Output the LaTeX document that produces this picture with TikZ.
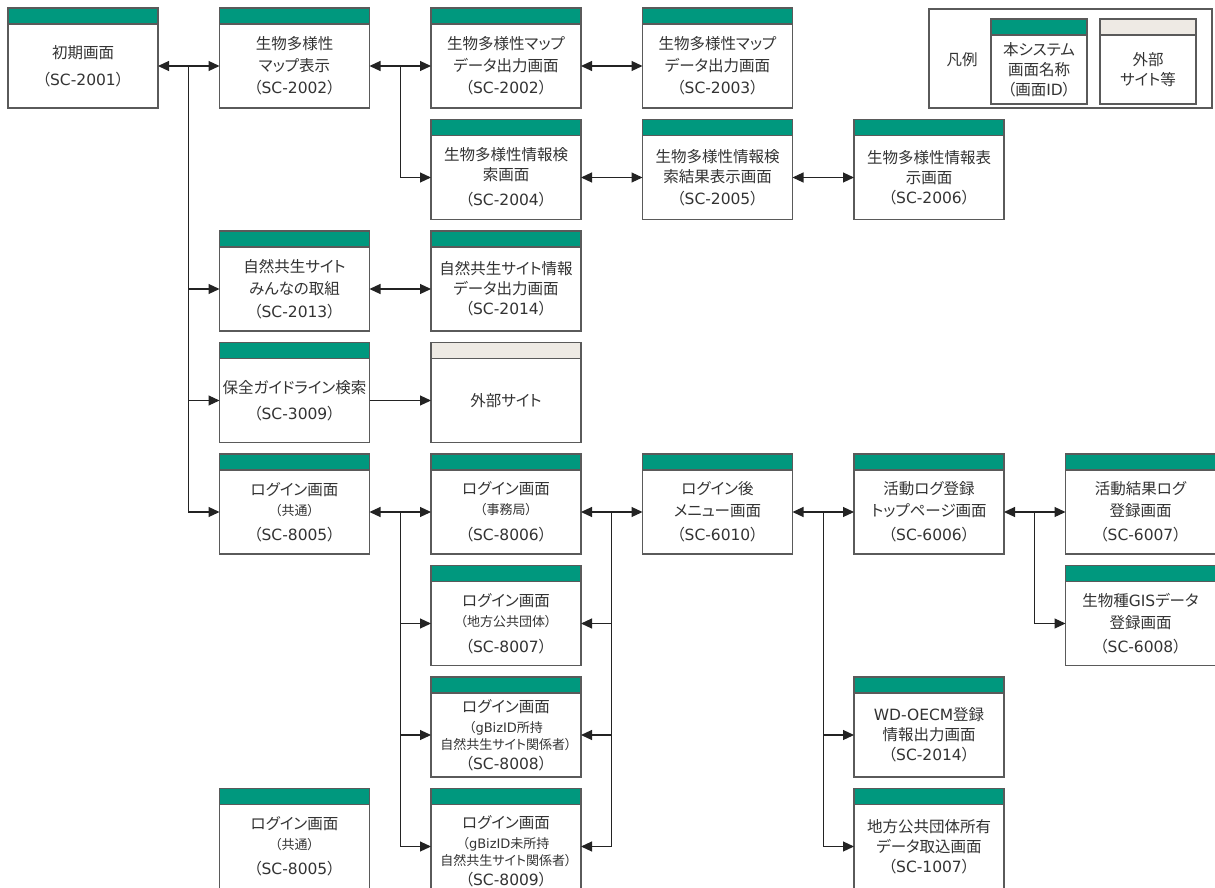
\documentclass[tikz,border=0pt]{standalone}
\usepackage{fontspec}
\setmainfont{Noto Sans CJK JP}[RawFeature=+palt]
\newfontfamily\latinfont{DejaVu Sans}
\usetikzlibrary{arrows.meta,calc}

\definecolor{hgreen}{RGB}{0,152,126}
\definecolor{hbeige}{RGB}{238,234,228}
\definecolor{framec}{RGB}{90,90,90}
\definecolor{ink}{RGB}{51,51,51}
\definecolor{wirec}{RGB}{35,35,35}

% Latin runs, screen IDs and the smaller sub-lines
\newcommand\lt[1]{{\latinfont #1}}
\newcommand\scid[1]{（\lt{SC-#1}）}
\newcommand\subf{\fontsize{13}{17}\selectfont}

% screen box: [text shift]{name}{left x}{top y}{header colour}{text}
\newcommand\scrn[6][0pt]{%
  \node[body] (#2) at ({#3+75},{#4+58}) {};
  \node[head, fill=#5] (#2h) at (#2.north) {};
  \node[txt] (#2t) at ([yshift=#1]#2.center) {#6};
}

\tikzset{
  body/.style={draw=framec, line width=1.2pt, fill=white, minimum width=150,
    minimum height=84, inner sep=0pt, outer sep=0pt},
  head/.style={draw=framec, line width=1.2pt, minimum width=150,
    minimum height=16, inner sep=0pt, outer sep=0pt, anchor=south},
  txt/.style={text=ink, align=center, inner sep=0pt,
    font=\fontsize{15.5}{20}\selectfont},
  wire/.style={draw=wirec, line width=1.1pt},
  dbl/.style={wire, {Triangle[length=11pt,width=10pt]}-{Triangle[length=11pt,width=10pt]}},
  sgl/.style={wire, -{Triangle[length=11pt,width=10pt]}},
}

\begin{document}
\begin{tikzpicture}[x=1pt,y=-1pt]
\useasboundingbox (0,0) rectangle (1215,888);
\clip (0,0) rectangle (1215,888);
\fill[white] (0,0) rectangle (1215,888);

% row 1
\scrn{b2001}{8}{8}{hgreen}{初期画面\\[7pt]\scid{2001}}
\scrn{b2002}{219.5}{8}{hgreen}{生物多様性\\[2pt]マップ表示\\[2pt]\scid{2002}}
\scrn{b2002o}{431}{8}{hgreen}{生物多様性マップ\\[2pt]データ出力画面\\[2pt]\scid{2002}}
\scrn{b2003}{642.5}{8}{hgreen}{生物多様性マップ\\[2pt]データ出力画面\\[2pt]\scid{2003}}
% row 2
\scrn{b2004}{431}{119.5}{hgreen}{生物多様性情報検\\索画面\\[5pt]\scid{2004}}
\scrn{b2005}{642.5}{119.5}{hgreen}{生物多様性情報検\\索結果表示画面\\[2pt]\scid{2005}}
\scrn{b2006}{854}{119.5}{hgreen}{生物多様性情報表\\示画面\\\scid{2006}}
% row 3
\scrn{b2013}{219.5}{231}{hgreen}{自然共生サイト\\[2pt]みんなの取組\\[3pt]\scid{2013}}
\scrn{b2014}{431}{231}{hgreen}{自然共生サイト情報\\データ出力画面\\\scid{2014}}
% row 4
\scrn{b3009}{219.5}{342.5}{hgreen}{保全ガイドライン検索\\[6pt]\scid{3009}}
\scrn{bext}{431}{342.5}{hbeige}{外部サイト}
% row 5
\scrn{b8005}{219.5}{454}{hgreen}{ログイン画面\\{\subf （共通）}\\[5pt]\scid{8005}}
\scrn{b8006}{431}{454}{hgreen}{ログイン画面\\{\subf （事務局）}\\[6pt]\scid{8006}}
\scrn{b6010}{642.5}{454}{hgreen}{ログイン後\\[2pt]メニュー画面\\[4pt]\scid{6010}}
\scrn{b6006}{854}{454}{hgreen}{活動ログ登録\\[2pt]トップページ画面\\[4pt]\scid{6006}}
\scrn{b6007}{1065.5}{454}{hgreen}{活動結果ログ\\[2pt]登録画面\\[4pt]\scid{6007}}
% row 6
\scrn{b8007}{431}{565.5}{hgreen}{ログイン画面\\{\subf （地方公共団体）}\\[6pt]\scid{8007}}
\scrn{b6008}{1065.5}{565.5}{hgreen}{生物種\lt{GIS}データ\\[2pt]登録画面\\[4pt]\scid{6008}}
% row 7
\scrn{b8008}{431}{677}{hgreen}{ログイン画面\\{\subf （\lt{gBizID}所持}\\[-3pt]{\subf 自然共生サイト関係者）}\\\scid{8008}}
\scrn{bwd}{854}{677}{hgreen}{\lt{WD-OECM}登録\\情報出力画面\\\scid{2014}}
% row 8
\scrn{b8005b}{219.5}{788.5}{hgreen}{ログイン画面\\{\subf （共通）}\\[5pt]\scid{8005}}
\scrn[-5pt]{b8009}{431}{788.5}{hgreen}{ログイン画面\\{\subf （\lt{gBizID}未所持}\\[-3pt]{\subf 自然共生サイト関係者）}\\\scid{8009}}
\scrn{b1007}{854}{788.5}{hgreen}{地方公共団体所有\\データ取込画面\\\scid{1007}}

% legend
\node[draw=framec, line width=1.2pt, minimum width=283, minimum height=99,
  inner sep=0pt] (legend) at (1070.5,58.5) {};
\node[txt] (legt) at (962,60) {凡例};
\node[body, minimum width=96, minimum height=69] (lg1) at (1039,69.5) {};
\node[head, minimum width=96, fill=hgreen] (lg1h) at (lg1.north) {};
\node[txt] (lg1t) at (lg1.center) {本システム\\画面名称\\（画面\lt{ID}）};
\node[body, minimum width=96, minimum height=69] (lg2) at (1148,69.5) {};
\node[head, minimum width=96, fill=hbeige] (lg2h) at (lg2.north) {};
\node[txt] (lg2t) at (lg2.center) {外部\\サイト等};

% junction points between neighbouring columns
\coordinate (j1) at ($(b2001.east)!0.5!(b2002.west)$);
\coordinate (j2) at ($(b2002.east)!0.5!(b2002o.west)$);
\coordinate (j3) at ($(b8005.east)!0.5!(b8006.west)$);
\coordinate (j4) at ($(b8006.east)!0.5!(b6010.west)$);
\coordinate (j5) at ($(b6010.east)!0.5!(b6006.west)$);
\coordinate (j6) at ($(b6006.east)!0.5!(b6007.west)$);

% transitions
\draw[dbl] (b2001.east) -- (b2002.west);
\draw[sgl] (j1) |- (b2013.west);
\draw[sgl] (j1) |- (b3009.west);
\draw[sgl] (j1) |- (b8005.west);

\draw[dbl] (b2002.east) -- (b2002o.west);
\draw[sgl] (j2) |- (b2004.west);
\draw[dbl] (b2002o.east) -- (b2003.west);
\draw[dbl] (b2004.east) -- (b2005.west);
\draw[dbl] (b2005.east) -- (b2006.west);

\draw[dbl] (b2013.east) -- (b2014.west);
\draw[sgl] (b3009.east) -- (bext.west);

\draw[dbl] (b8005.east) -- (b8006.west);
\draw[sgl] (j3) |- (b8007.west);
\draw[sgl] (j3) |- (b8008.west);
\draw[sgl] (j3) |- (b8009.west);

\draw[dbl] (b8006.east) -- (b6010.west);
\draw[sgl] (j4) |- (b8007.east);
\draw[sgl] (j4) |- (b8008.east);
\draw[sgl] (j4) |- (b8009.east);

\draw[dbl] (b6010.east) -- (b6006.west);
\draw[sgl] (j5) |- (bwd.west);
\draw[sgl] (j5) |- (b1007.west);

\draw[dbl] (b6006.east) -- (b6007.west);
\draw[sgl] (j6) |- (b6008.west);
\end{tikzpicture}
\end{document}
